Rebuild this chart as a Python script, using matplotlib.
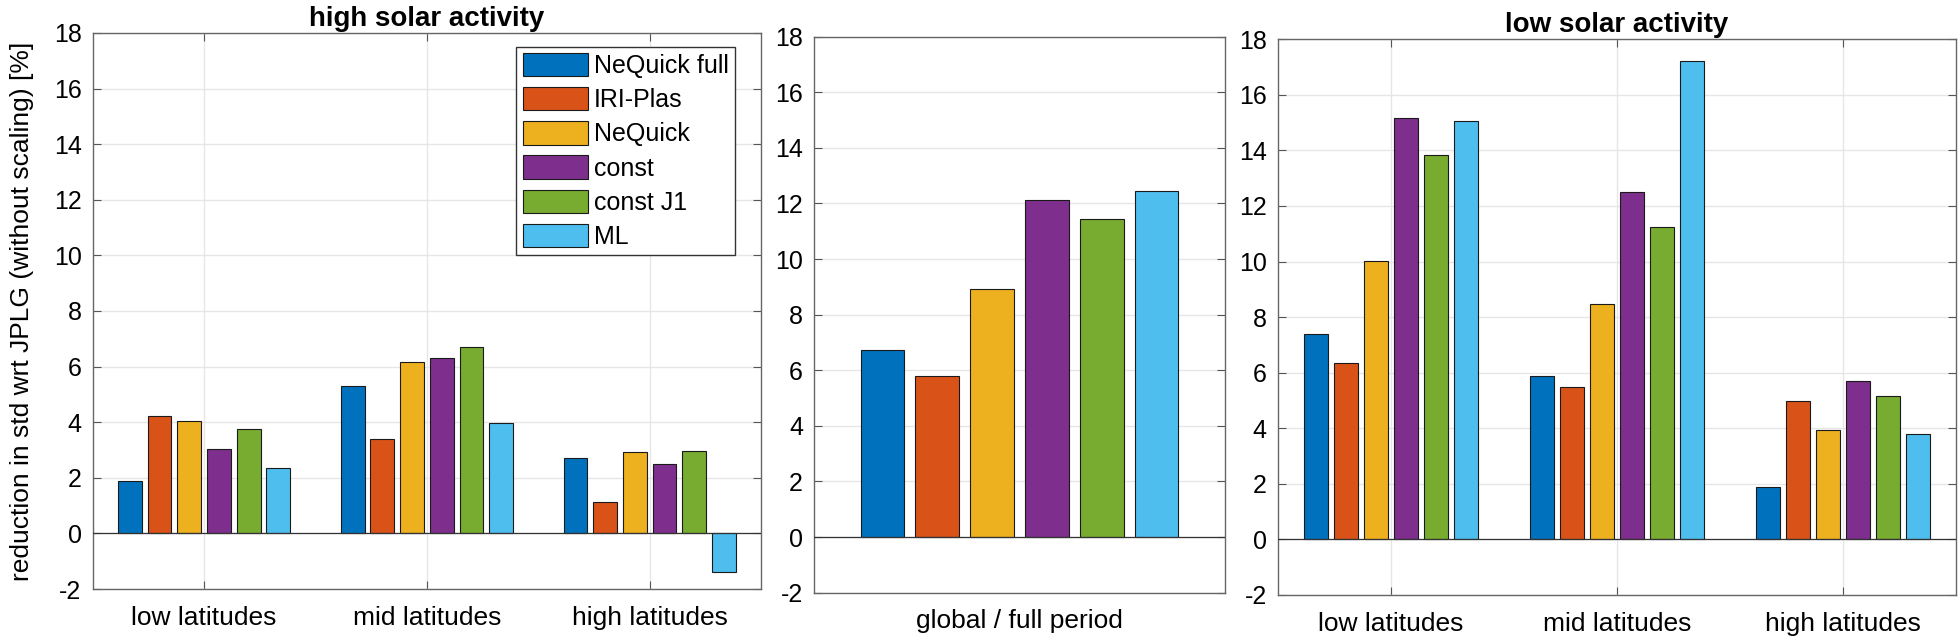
import matplotlib.pyplot as plt
import numpy as np

plt.rcParams['font.family'] = ['Liberation Sans', 'DejaVu Sans']
plt.rcParams['axes.unicode_minus'] = False

series = ['NeQuick full', 'IRI-Plas', 'NeQuick', 'const', 'const J1', 'ML']
colors = ['#0072BD', '#D95319', '#EDB120', '#7E2F8E', '#77AC30', '#4DBEEE']

regions = ['low latitudes', 'mid latitudes', 'high latitudes']

# rows = regions, columns = series
high_solar = [
    [1.87, 4.21, 4.06, 3.03, 3.76, 2.35],
    [5.30, 3.38, 6.18, 6.30, 6.69, 3.97],
    [2.73, 1.14, 2.91, 2.49, 2.95, -1.40],
]
global_full = [6.73, 5.80, 8.92, 12.14, 11.45, 12.46]
low_solar = [
    [7.38, 6.35, 10.03, 15.15, 13.84, 15.07],
    [5.88, 5.48, 8.47, 12.52, 11.24, 17.20],
    [1.87, 4.98, 3.93, 5.71, 5.17, 3.81],
]

TICK_FS = 18
XLAB_FS = 19


def grouped_bars(ax, data, labels, xgrid=True):
    data = np.asarray(data)
    ngroups, nbars = data.shape
    pitch = 0.8 / nbars
    centers = np.arange(1, ngroups + 1)
    for j in range(nbars):
        x = centers + (j - (nbars - 1) / 2) * pitch
        ax.bar(x, data[:, j], width=pitch * 0.8, color=colors[j],
               edgecolor='#1a1a1a', linewidth=0.8, label=series[j], zorder=3)
    ax.axhline(0, color='#333333', linewidth=0.9, zorder=4)
    ax.set_xlim(0.5, ngroups + 0.5)
    ax.set_ylim(-2, 18)
    ax.set_yticks(np.arange(-2, 19, 2))
    ax.set_xticks(centers)
    ax.set_xticklabels(labels, fontsize=XLAB_FS)
    ax.tick_params(direction='in', length=6, width=0.8, color='#555555',
                   top=True, right=True, labelsize=TICK_FS)
    ax.tick_params(axis='y', pad=8)
    ax.tick_params(axis='x', pad=12, labelsize=XLAB_FS)
    ax.grid(True, axis='y', color='#e6e6e6', linewidth=1.0, zorder=0)
    if xgrid:
        ax.grid(True, axis='x', color='#e6e6e6', linewidth=1.0, zorder=0)
    for s in ax.spines.values():
        s.set_color('#666666')
        s.set_linewidth(1.0)


fig = plt.figure(figsize=(19.6, 6.44), dpi=100)

ax1 = fig.add_axes([0.0473, 0.0854, 0.341, 0.8634])
grouped_bars(ax1, high_solar, regions)
ax1.set_title('high solar activity', fontsize=20, fontweight='bold', pad=5)
ax1.set_ylabel('reduction in std wrt JPLG (without scaling) [%]', fontsize=19, labelpad=14)
leg = ax1.legend(loc='upper right', bbox_to_anchor=(0.961, 0.975), borderaxespad=0,
                 fontsize=18, frameon=True, fancybox=False, framealpha=1,
                 edgecolor='#333333', handlelength=2.6, handleheight=1.05,
                 handletextpad=0.25, labelspacing=0.36, borderpad=0.25)
leg.get_frame().set_linewidth(1.0)

ax2 = fig.add_axes([0.4153, 0.0797, 0.2097, 0.8633])
grouped_bars(ax2, [global_full], ['global / full period'], xgrid=False)
ax2.tick_params(axis='x', length=0)

ax3 = fig.add_axes([0.652, 0.0761, 0.346, 0.863])
grouped_bars(ax3, low_solar, regions)
ax3.set_title('low solar activity', fontsize=20, fontweight='bold', pad=5)

fig.savefig('out.png', dpi=100)
